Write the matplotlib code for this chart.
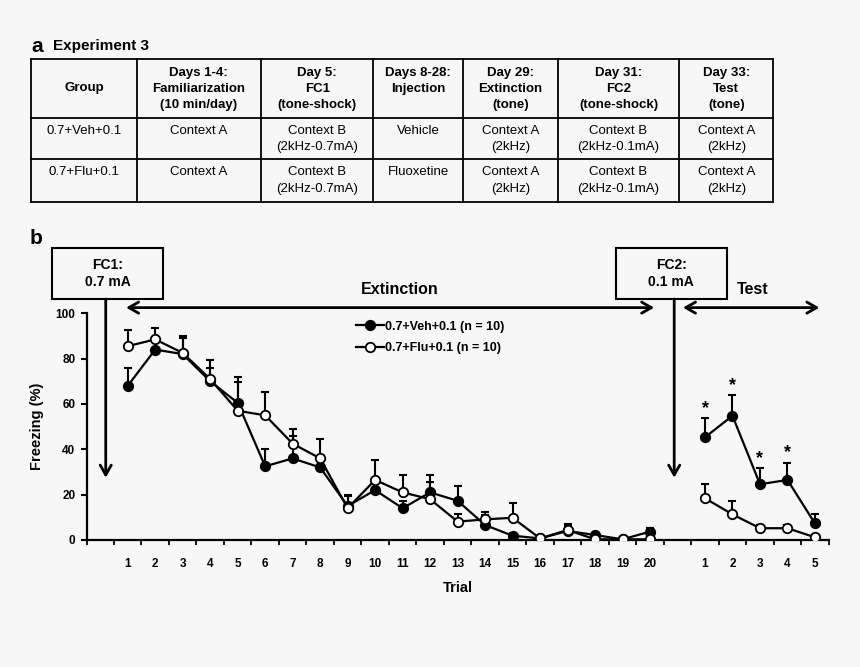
import matplotlib.pyplot as plt
from matplotlib.patches import Rectangle

plt.rcParams['font.family'] = ['Liberation Sans', 'DejaVu Sans']

FONDO = '#f7f7f7'

# ---- datos ----
ensayos = list(range(1, 21))
ensayos_test = list(range(1, 6))

veh_ext = [68, 84, 82, 70, 60.5, 32.5, 36, 32, 15, 22, 14, 21, 17.3, 6.6, 1.9, 0.7, 4, 2.2, 0.3, 3.7]
veh_ext_sem = [8, 5, 7, 6, 11.5, 7.5, 10, 3, 5, 3, 3, 4.5, 6.7, 4.4, 1, 0.8, 2, 1, 0.3, 1.5]
flu_ext = [85.5, 88.5, 82.5, 71, 57, 55, 42.5, 36, 14, 26.5, 21, 18, 8.1, 9.1, 9.8, 0.7, 4.4, 0.3, 0.3, 0.3]
flu_ext_sem = [7, 5, 7.5, 8.5, 12.5, 10.5, 6.3, 8.5, 5.5, 9, 7.5, 10.5, 3.2, 3.4, 6.4, 0.8, 2.6, 0.5, 0.3, 0.3]

veh_test = [45.3, 54.8, 24.6, 26.5, 7.3]
veh_test_sem = [8.4, 9.2, 7, 7.6, 4.2]
flu_test = [18.4, 11.3, 5.2, 5.2, 1.2]
flu_test_sem = [6.2, 5.9, 1.5, 1.5, 0.3]
significativo = [True, True, True, True, False]

etiquetas = ['0.7+Veh+0.1 (n = 10)', '0.7+Flu+0.1 (n = 10)']

# ---- tabla (panel a) ----
encabezados = [
    ['Group'],
    ['Days 1-4:', 'Familiarization', '(10 min/day)'],
    ['Day 5:', 'FC1', '(tone-shock)'],
    ['Days 8-28:', 'Injection'],
    ['Day 29:', 'Extinction', '(tone)'],
    ['Day 31:', 'FC2', '(tone-shock)'],
    ['Day 33:', 'Test', '(tone)'],
]
fila_veh = [['0.7+Veh+0.1'], ['Context A'], ['Context B', '(2kHz-0.7mA)'], ['Vehicle'],
            ['Context A', '(2kHz)'], ['Context B', '(2kHz-0.1mA)'], ['Context A', '(2kHz)']]
fila_flu = [['0.7+Flu+0.1'], ['Context A'], ['Context B', '(2kHz-0.7mA)'], ['Fluoxetine'],
            ['Context A', '(2kHz)'], ['Context B', '(2kHz-0.1mA)'], ['Context A', '(2kHz)']]

COLUMNAS = [31, 136.7, 261, 373.3, 463.3, 557.7, 679.3, 773.3]
FILAS = [59.3, 117.7, 159.3, 201.7]


def dibujar_tabla(lay):
    lay.text(31, 46, 'a', fontsize=15, fontweight='bold', va='center', ha='left')
    lay.text(53, 46, 'Experiment 3', fontsize=11, fontweight='bold', va='center', ha='left')
    for x in COLUMNAS:
        lay.plot([x, x], [FILAS[0], FILAS[-1]], color='black', lw=1.3)
    for y in FILAS:
        lay.plot([COLUMNAS[0], COLUMNAS[-1]], [y, y], color='black', lw=1.3)
    for i in range(len(encabezados)):
        xc = (COLUMNAS[i] + COLUMNAS[i + 1]) / 2
        lineas = encabezados[i]
        if len(lineas) == 1:
            lay.text(xc, (FILAS[0] + FILAS[1]) / 2, lineas[0], ha='center', va='center',
                     fontsize=9.5, fontweight='bold')
        else:
            for j, t in enumerate(lineas):
                lay.text(xc, FILAS[0] + 14 + 16 * j, t, ha='center', va='center',
                         fontsize=9.5, fontweight='bold')
        for fila, y0 in ((fila_veh, FILAS[1]), (fila_flu, FILAS[2])):
            for j, t in enumerate(fila[i]):
                lay.text(xc, y0 + 13 + 16.5 * j, t, ha='center', va='center', fontsize=9.5)
    lay.text(30, 238, 'b', fontsize=15, fontweight='bold', va='center', ha='left')


def flecha(ax, desde, hasta, estilo):
    ax.annotate('', xy=hasta, xytext=desde, annotation_clip=False,
                arrowprops=dict(arrowstyle=estilo + ',head_length=0.7,head_width=0.4',
                                lw=2, color='black', shrinkA=0, shrinkB=0))


def caja(ax, x0, x1, y0, y1, texto):
    ax.add_patch(Rectangle((x0, y0), x1 - x0, y1 - y0, fill=False, lw=1.5,
                           edgecolor='black', clip_on=False))
    ax.text((x0 + x1) / 2, (y0 + y1) / 2, texto, ha='center', va='center',
            fontsize=10, fontweight='bold', linespacing=1.25)


def dibujar_serie(ax, x, medias, sem, relleno):
    ax.errorbar(x, medias, yerr=[[0] * len(sem), sem], fmt='none', ecolor='black',
                elinewidth=1.5, capsize=2.6, capthick=1.5, zorder=2)
    return ax.plot(x, medias, color='black', lw=1.6, marker='o', markersize=6.8,
                   markerfacecolor=relleno, markeredgecolor='black', markeredgewidth=1.3,
                   zorder=3)[0]


def generar_grafico():
    fig = plt.figure(figsize=(8.6, 6.67), dpi=100, facecolor=FONDO)
    lay = fig.add_axes([0, 0, 1, 1])
    lay.set_xlim(0, 860)
    lay.set_ylim(667, 0)
    lay.axis('off')
    dibujar_tabla(lay)

    ax = fig.add_axes([86.5 / 860, 127 / 667, 742.2 / 860, 226.7 / 667])
    ax.set_facecolor('none')

    x_test = [t + 21 for t in ensayos_test]
    linea_veh = dibujar_serie(ax, ensayos, veh_ext, veh_ext_sem, 'black')
    linea_flu = dibujar_serie(ax, ensayos, flu_ext, flu_ext_sem, 'white')
    dibujar_serie(ax, x_test, veh_test, veh_test_sem, 'black')
    dibujar_serie(ax, x_test, flu_test, flu_test_sem, 'white')

    for x, m, s, sig in zip(x_test, veh_test, veh_test_sem, significativo):
        if sig:
            ax.text(x, m + s + 0.5, '*', ha='center', va='bottom', fontsize=13, fontweight='bold')

    ax.set_xlim(-0.5, 26.5)
    ax.set_ylim(0, 100)
    for lado in ('top', 'right'):
        ax.spines[lado].set_visible(False)
    for lado in ('left', 'bottom'):
        ax.spines[lado].set_linewidth(1.6)

    ax.set_yticks(range(0, 101, 20))
    ax.tick_params(axis='y', direction='out', length=4, width=1.5, labelsize=8.5, pad=4)
    ax.set_xticks([p - 0.5 for p in range(0, 28)])
    ax.set_xticklabels([])
    ax.tick_params(axis='x', which='major', direction='out', length=3.5, width=1.3)
    ax.set_xticks(ensayos + x_test, minor=True)
    ax.set_xticklabels([str(t) for t in ensayos] + [str(t) for t in ensayos_test], minor=True)
    ax.tick_params(axis='x', which='minor', length=0, labelsize=8.5, pad=13)
    for lbl in ax.get_yticklabels() + ax.get_xticklabels(minor=True):
        lbl.set_fontweight('bold')

    ax.set_ylabel('Freezing (%)', fontsize=10.5, fontweight='bold', labelpad=8)
    ax.set_xlabel('Trial', fontsize=10.5, fontweight='bold', labelpad=8)

    ax.legend([linea_veh, linea_flu], etiquetas, loc='upper left', bbox_to_anchor=(0.355, 0.995),
              frameon=False, handlelength=2.2, handletextpad=0.1, borderpad=0, labelspacing=0.75,
              prop={'weight': 'bold', 'size': 9})

    # anotaciones de las fases
    caja(ax, -1.74, 2.27, 106.3, 128.7, 'FC1:\n0.7 mA')
    caja(ax, 18.76, 22.79, 106.3, 128.7, 'FC2:\n0.1 mA')
    flecha(ax, (0.2, 106.3), (0.2, 27.5), '->')
    flecha(ax, (20.88, 106.3), (20.88, 27.5), '->')
    flecha(ax, (0.94, 102.5), (20.15, 102.5), '<->')
    flecha(ax, (21.2, 102.5), (26.16, 102.5), '<->')
    ax.text(10.9, 110.3, 'Extinction', ha='center', va='center', fontsize=11.5, fontweight='bold')
    ax.text(23.75, 110.3, 'Test', ha='center', va='center', fontsize=11.5, fontweight='bold')

    fig.savefig('out.png', dpi=100, facecolor=FONDO)


generar_grafico()
